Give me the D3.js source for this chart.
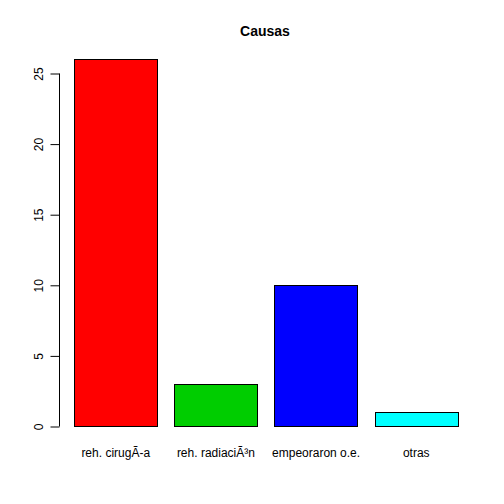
<!DOCTYPE html>
<html>
<head>
<meta charset="utf-8">
<script src="https://cdn.jsdelivr.net/npm/d3@7"></script>
<style>
  body { margin: 0; background: #fff; }
  text { font-family: "Liberation Sans", Arial, sans-serif; }
</style>
</head>
<body>
<script>
// data
const categories = ["reh. cirugÃ-a", "reh. radiaciÃ³n", "empeoraron o.e.", "otras"];
const counts = [26, 3, 10, 1];
const barColors = ["#FF0000", "#00CD00", "#0000FF", "#00FFFF"];
const yTicks = [0, 5, 10, 15, 20, 25];
const title = "Causas";

const width = 504, height = 504;

const svg = d3.select("body").append("svg")
    .attr("width", width)
    .attr("height", height);

const xScale = d3.scaleBand()
    .domain(categories)
    .range([74, 458])
    .paddingInner(1 / 6)
    .paddingOuter(0);

const yScale = d3.scaleLinear()
    .domain([0, 25])
    .range([426.5, 73.5]);

// bars
svg.selectAll("rect.bar")
    .data(categories)
    .join("rect")
    .attr("class", "bar")
    .attr("x", d => Math.round(xScale(d)) + 0.5)
    .attr("y", (d, i) => Math.round(yScale(counts[i]) - 0.5) + 0.5)
    .attr("width", Math.round(xScale.bandwidth()))
    .attr("height", (d, i) => Math.round(yScale(0) - 0.5) - Math.round(yScale(counts[i]) - 0.5))
    .attr("fill", (d, i) => barColors[i])
    .attr("stroke", "#000")
    .attr("stroke-width", 1);

// y axis like R
const yAxis = svg.append("g")
    .attr("transform", "translate(59.5,0)")
    .call(d3.axisLeft(yScale).tickValues(yTicks).tickSize(9).tickPadding(0).tickFormat(d3.format("d")));
yAxis.select(".domain").attr("d", `M0,${yScale(0)}V${yScale(25)}`).attr("stroke", "#000");
yAxis.selectAll(".tick line").attr("stroke", "#000");
yAxis.selectAll(".tick text")
    .attr("x", null).attr("dy", null)
    .attr("transform", "translate(-17,0) rotate(-90)")
    .attr("text-anchor", "middle")
    .attr("font-size", 12)
    .attr("font-family", "Liberation Sans, Arial, sans-serif")
    .attr("fill", "#000");

// category labels
svg.selectAll("text.cat")
    .data(categories)
    .join("text")
    .attr("class", "cat")
    .attr("x", d => xScale(d) + xScale.bandwidth() / 2)
    .attr("y", 457)
    .attr("text-anchor", "middle")
    .attr("font-size", 12)
    .text(d => d);

// title
svg.append("text")
    .attr("x", 265)
    .attr("y", 36)
    .attr("text-anchor", "middle")
    .attr("font-size", 14)
    .attr("font-weight", "bold")
    .text(title);
</script>
</body>
</html>
